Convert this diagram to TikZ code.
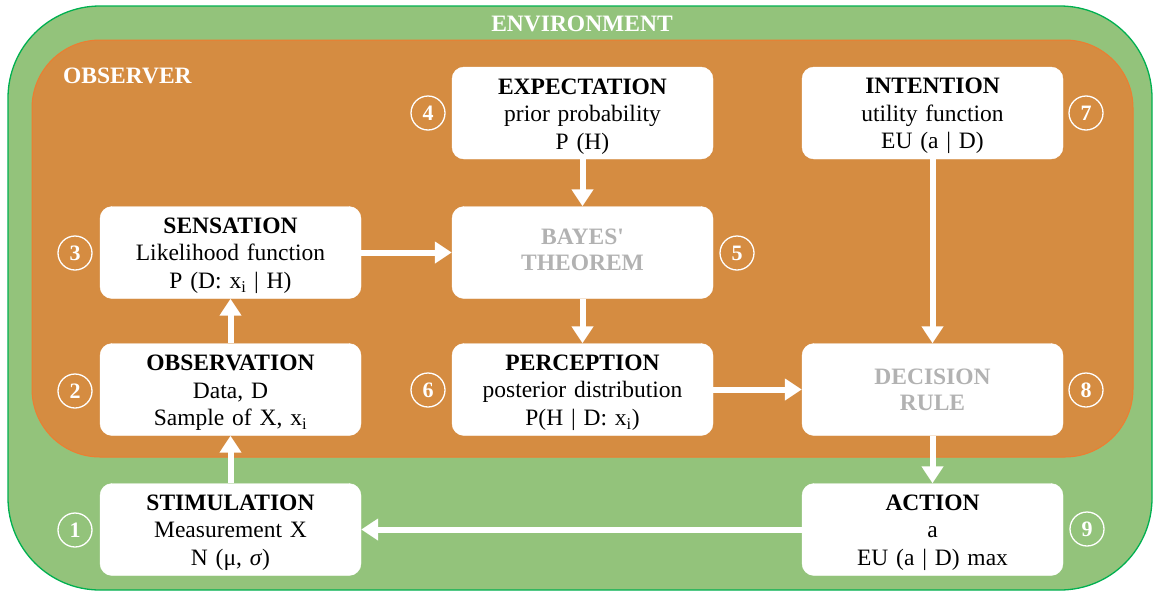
\documentclass[tikz,border=0pt]{standalone}
\usepackage{fontspec}
\setmainfont{Liberation Serif}
\newfontfamily\rawserif{Liberation Serif}[Ligatures=ResetAll]
\usetikzlibrary{arrows.meta}
\definecolor{envgreen}{RGB}{147,195,123}
\definecolor{envborder}{RGB}{0,176,80}
\definecolor{obsorange}{RGB}{213,140,65}
\definecolor{obsborder}{RGB}{237,125,49}
\definecolor{graytxt}{RGB}{178,178,178}
\newcommand\tstrut{\rule{0pt}{22pt}}
\begin{document}
\begin{tikzpicture}[x=1pt,y=-1pt,
  box/.style={fill=white, draw=white, rounded corners=12pt, minimum width=261pt, minimum height=92pt,
    text width=255pt, align=center, inner sep=0pt, font=\fontsize{23.5}{27.5}\selectfont},
  graybox/.style={box, text=graytxt, font=\bfseries\fontsize{23.5}{26}\selectfont},
  num/.style={circle, draw=white, line width=1.3pt, minimum size=34pt, inner sep=0pt, text=white,
    font=\bfseries\fontsize{22}{22}\selectfont},
  arr/.style={draw=white, line width=6pt, -{Triangle[length=17pt,width=21pt,fill=white]}},
  lab/.style={text=white, inner sep=0pt, font=\bfseries\fontsize{23.5}{27.5}\selectfont}]
\useasboundingbox (0,0) rectangle (1153,592);
% environment
\draw[fill=envgreen, draw=envborder, line width=1.3pt, rounded corners=92pt] (8,6) rectangle (1152,590);
\node[lab] (envlab) at (582,24) {ENVIRONMENT};
% observer
\draw[fill=obsorange, draw=obsborder, line width=1pt, rounded corners=68pt] (32,40) rectangle (1133,457);
\node[lab, anchor=base west] (obslab) at (63,83) {OBSERVER};
% boxes
\node[box] (expect) at (582.5,113) {\tstrut\textbf{EXPECTATION}\\prior probability\\P (H)};
\node[box] (intent) at (932.5,113) {\tstrut\textbf{INTENTION}\\utility function\\EU (a | D)};
\node[box] (sens) at (230.5,252.5) {\tstrut\textbf{SENSATION}\\Likelihood function\\P (D: x\textsubscript{i} | H)};
\node[graybox] (bayes) at (582.5,252.5) {BAYES{\rawserif\bfseries '}\\THEOREM\rule[-6pt]{0pt}{1pt}};
\node[box] (obs) at (230.5,389.5) {\tstrut\textbf{OBSERVATION}\\Data, D\\Sample of X, x\textsubscript{i}};
\node[box] (perc) at (582.5,389.5) {\tstrut\textbf{PERCEPTION}\\posterior distribution\\P(H | D: x\textsubscript{i})};
\node[graybox] (dec) at (932.5,389.5) {DECISION\\RULE};
\node[box] (stim) at (230.5,529.5) {\tstrut\textbf{STIMULATION}\\Measurement X\\N (μ, \textit{σ})};
\node[box] (act) at (932.5,529.5) {\tstrut\textbf{ACTION}\\a\\EU (a | D) max};
% numbers
\node[num] (n1) at (75,530) {1};
\node[num] (n2) at (75,391) {2};
\node[num] (n3) at (75,253) {3};
\node[num] (n4) at (428,113) {4};
\node[num] (n5) at (737,253) {5};
\node[num] (n6) at (428,390) {6};
\node[num] (n7) at (1086,113) {7};
\node[num] (n8) at (1086,390) {8};
\node[num] (n9) at (1087,529) {9};
% connectors
\draw[arr] (expect) -- (bayes);
\draw[arr] (sens) -- (bayes);
\draw[arr] (bayes) -- (perc);
\draw[arr] (perc) -- (dec);
\draw[arr] (intent) -- (dec);
\draw[arr] (obs) -- (sens);
\draw[arr] (stim) -- (obs);
\draw[arr] (dec) -- (act);
\draw[arr] (act) -- (stim);
\end{tikzpicture}
\end{document}
